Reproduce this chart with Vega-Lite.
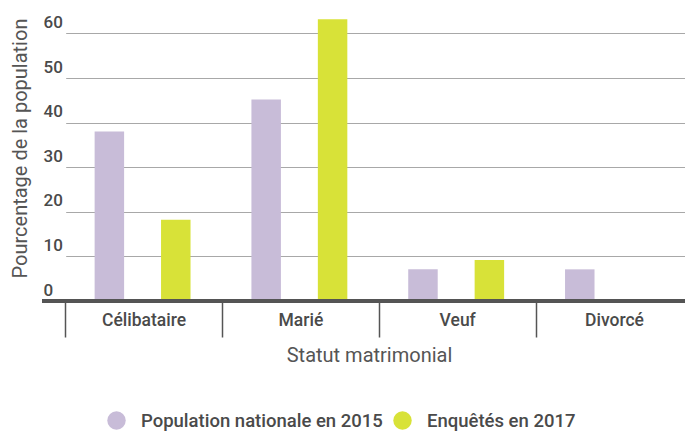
{
  "$schema": "https://vega.github.io/schema/vega-lite/v6.json",
  "autosize": "none",
  "width": 643,
  "height": 301,
  "padding": {"left": 42, "top": 0, "right": 0, "bottom": 131},
  "config": {
    "font": "Roboto",
    "view": {"stroke": null},
    "axis": {"labelFont": "Roboto", "titleFont": "Roboto"}
  },
  "data": {
    "values": [
      {"statut": "Célibataire", "serie": "Population nationale en 2015", "valeur": 38},
      {"statut": "Célibataire", "serie": "Enquêtés en 2017", "valeur": 18.2},
      {"statut": "Marié", "serie": "Population nationale en 2015", "valeur": 45.2},
      {"statut": "Marié", "serie": "Enquêtés en 2017", "valeur": 63.2},
      {"statut": "Veuf", "serie": "Population nationale en 2015", "valeur": 7.1},
      {"statut": "Veuf", "serie": "Enquêtés en 2017", "valeur": 9.2},
      {"statut": "Divorcé", "serie": "Population nationale en 2015", "valeur": 7.1},
      {"statut": "Divorcé", "serie": "Enquêtés en 2017", "valeur": 0}
    ]
  },
  "layer": [
    {
      "mark": {"type": "bar"},
      "encoding": {
        "x": {
          "field": "statut",
          "type": "nominal",
          "sort": ["Célibataire", "Marié", "Veuf", "Divorcé"],
          "scale": {"range": [23.7, 650.9], "paddingInner": 0, "paddingOuter": 0},
          "axis": {
            "title": "Statut matrimonial",
            "domain": false,
            "ticks": true,
            "bandPosition": 0,
            "tickSize": 36,
            "tickWidth": 1.5,
            "tickColor": "#555555",
            "labelAngle": 0,
            "labelFontSize": 17.5,
            "labelFontWeight": 500,
            "labelColor": "#4a4a4a",
            "labelPadding": -26,
            "labelBaseline": "top",
            "titleFontSize": 20,
            "titleFontWeight": "normal",
            "titleColor": "#555555",
            "titleX": 327,
            "titleY": 54,
            "titleBaseline": "middle",
            "titleAnchor": null
          }
        },
        "xOffset": {
          "field": "serie",
          "type": "nominal",
          "sort": ["Population nationale en 2015", "Enquêtés en 2017"],
          "scale": {"paddingInner": 0.556, "paddingOuter": 0.4585, "align": 0.475}
        },
        "y": {
          "field": "valeur",
          "type": "quantitative",
          "scale": {"domain": [0, 67.5], "nice": false},
          "axis": {
            "title": "Pourcentage de la population",
            "values": [0, 10, 20, 30, 40, 50, 60],
            "domain": false,
            "ticks": false,
            "tickSize": 0,
            "grid": true,
            "gridColor": "#a8a8a8",
            "gridWidth": 1,
            "labelAlign": "left",
            "labelPadding": -1,
            "labelBaseline": "alphabetic",
            "labelOffset": -6,
            "labelFontSize": 17,
            "labelFontWeight": 500,
            "labelColor": "#4a4a4a",
            "titleFontSize": 20,
            "titleFontWeight": "normal",
            "titleColor": "#555555",
            "titleAngle": -90,
            "titleX": -22,
            "titleY": 148,
            "titleBaseline": "middle",
            "titleAlign": "center",
            "titleAnchor": null
          }
        },
        "color": {
          "field": "serie",
          "type": "nominal",
          "sort": ["Population nationale en 2015", "Enquêtés en 2017"],
          "scale": {"range": ["#c8bcd8", "#d8e238"]},
          "legend": {
            "title": null,
            "orient": "none",
            "direction": "horizontal",
            "legendX": 65,
            "legendY": 411,
            "symbolType": "circle",
            "symbolSize": 340,
            "symbolStrokeWidth": 0,
            "symbolOpacity": 1,
            "labelFontSize": 18.5,
            "labelFontWeight": 500,
            "labelColor": "#4a4a4a",
            "labelLimit": 0,
            "labelOffset": 15,
            "columnPadding": 10
          }
        }
      }
    },
    {
      "mark": {"type": "rule", "color": "#555555", "strokeWidth": 3},
      "encoding": {"y": {"datum": 0}}
    }
  ]
}
